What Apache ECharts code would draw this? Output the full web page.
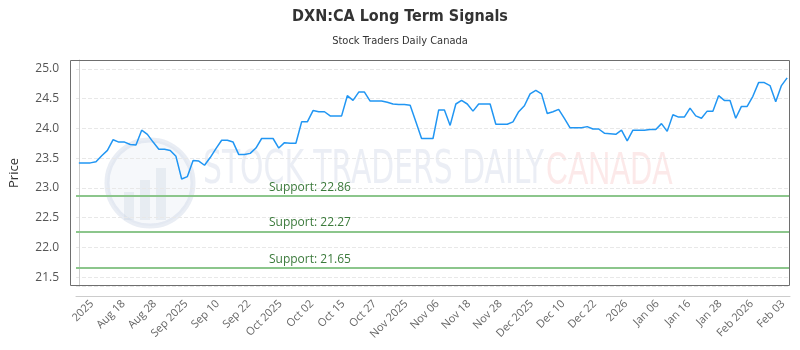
<!DOCTYPE html>
<html>
<head>
<meta charset="utf-8">
<title>DXN:CA Long Term Signals</title>
<script src="https://cdn.jsdelivr.net/npm/echarts@6/dist/echarts.min.js"></script>
<style>
  html, body { margin: 0; padding: 0; background: #fff; }
  #chart { width: 800px; height: 350px; }
</style>
</head>
<body>
<div id="chart"></div>
<script>
// daily closes
var prices = [
  23.42, 23.42, 23.42, 23.44, 23.54, 23.63, 23.81, 23.77, 23.77, 23.73,
  23.72, 23.97, 23.90, 23.77, 23.65, 23.65, 23.63, 23.53, 23.15, 23.19,
  23.46, 23.45, 23.38, 23.51, 23.66, 23.80, 23.80, 23.77, 23.56, 23.56,
  23.58, 23.67, 23.83, 23.83, 23.83, 23.67, 23.76, 23.75, 23.75, 24.11,
  24.11, 24.30, 24.28, 24.28, 24.21, 24.21, 24.21, 24.55, 24.47, 24.61,
  24.61, 24.46, 24.46, 24.46, 24.44, 24.41, 24.40, 24.40, 24.39, 24.11,
  23.83, 23.83, 23.83, 24.31, 24.31, 24.05, 24.41, 24.47, 24.41, 24.29,
  24.41, 24.41, 24.41, 24.07, 24.07, 24.07, 24.11, 24.28, 24.38, 24.58,
  24.64, 24.58, 24.25, 24.28, 24.32, 24.17, 24.01, 24.01, 24.01, 24.03,
  23.99, 23.99, 23.92, 23.91, 23.90, 23.97, 23.79, 23.97, 23.97, 23.97,
  23.98, 23.98, 24.08, 23.95, 24.23, 24.19, 24.19, 24.34, 24.21, 24.17,
  24.29, 24.29, 24.55, 24.47, 24.47, 24.17, 24.37, 24.37, 24.54, 24.77,
  24.77, 24.72, 24.45, 24.72, 24.85
]
var tickLabels = [
  '2025', 'Aug 18', 'Aug 28', 'Sep 2025', 'Sep 10', 'Sep 22', 'Oct 2025',
  'Oct 02', 'Oct 15', 'Oct 27', 'Nov 2025', 'Nov 06', 'Nov 18', 'Nov 28',
  'Dec 2025', 'Dec 10', 'Dec 22', '2026', 'Jan 06', 'Jan 16', 'Jan 28',
  'Feb 2026', 'Feb 03'
]
var supports = [22.86, 22.27, 21.65]

// labels sit at even spacing along the day index
var TICK_START = 2.3
var TICK_STEP = 5.5
var tickPos = tickLabels.map(function (t, j) { return TICK_START + j * TICK_STEP })

var GRID = { left: 70, right: 10, top: 60, bottom: 64 }

var chart = echarts.init(document.getElementById('chart'))

chart.setOption({
  animation: false,
  title: {
    text: 'DXN:CA Long Term Signals',
    subtext: 'Stock Traders Daily Canada',
    left: 'center',
    top: 4,
    itemGap: 11,
    textStyle: {
      color: '#333',
      fontSize: 16,
      fontWeight: 'bold',
      fontFamily: 'Liberation Sans Narrow, DejaVu Sans Condensed, sans-serif'
    },
    subtextStyle: {
      color: '#333',
      fontSize: 11,
      fontFamily: 'Liberation Sans Narrow, DejaVu Sans Condensed, sans-serif'
    }
  },
  grid: GRID,
  graphic: [
    { // watermark logo
      type: 'circle',
      z: 0,
      silent: true,
      shape: { cx: 150, cy: 183, r: 43 },
      style: { fill: 'rgba(215,222,235,0.22)', stroke: 'rgba(200,210,228,0.4)', lineWidth: 5 }
    },
    {
      type: 'rect', z: 0, silent: true,
      shape: { x: 124, y: 192, width: 10, height: 28 },
      style: { fill: 'rgba(200,208,222,0.3)' }
    },
    {
      type: 'rect', z: 0, silent: true,
      shape: { x: 140, y: 180, width: 10, height: 40 },
      style: { fill: 'rgba(200,208,222,0.3)' }
    },
    {
      type: 'rect', z: 0, silent: true,
      shape: { x: 156, y: 168, width: 10, height: 52 },
      style: { fill: 'rgba(200,208,222,0.3)' }
    },
    {
      type: 'text', z: 0, silent: true,
      x: 203, y: 148,
      scaleX: 0.72,
      style: {
        text: 'STOCK TRADERS DAILY',
        fill: 'rgba(215,222,235,0.5)',
        font: '46px "Liberation Sans Narrow", "DejaVu Sans Condensed", sans-serif'
      }
    },
    {
      type: 'text', z: 0, silent: true,
      x: 546, y: 148,
      scaleX: 0.66,
      style: {
        text: 'CANADA',
        fill: 'rgba(250,215,215,0.55)',
        font: '46px "Liberation Sans", sans-serif'
      }
    },
    { // plot frame, drawn over the edge grid lines
      type: 'rect', z: 10, silent: true,
      shape: {
        x: GRID.left + 0.5,
        y: GRID.top + 0.5,
        width: 800 - GRID.left - GRID.right - 1,
        height: 350 - GRID.top - GRID.bottom - 1
      },
      style: { fill: 'none', stroke: '#6e6e6e', lineWidth: 1 }
    }
  ],
  xAxis: {
    type: 'value',
    min: -0.5,
    max: prices.length - 0.5,
    offset: 10,
    axisLine: { show: true, lineStyle: { color: '#ccc' } },
    axisTick: { show: false },
    splitLine: { show: false },
    axisLabel: {
      customValues: tickPos,
      rotate: 45,
      margin: 6,
      color: '#666',
      fontSize: 11,
      fontFamily: 'Open Sans, sans-serif',
      formatter: function (v) {
        var j = Math.round((v - TICK_START) / TICK_STEP)
        return tickLabels[j] || ''
      }
    }
  },
  yAxis: {
    type: 'value',
    min: 21.35,
    max: 25.15,
    splitNumber: 8,
    offset: 10,
    name: 'Price',
    nameLocation: 'middle',
    nameGap: 45,
    nameTextStyle: { color: '#333', fontSize: 13, fontFamily: 'Open Sans, sans-serif' },
    axisLine: { show: true, lineStyle: { color: '#ccc' } },
    axisTick: { show: false },
    axisLabel: {
      color: '#555',
      fontSize: 12,
      margin: 7,
      fontFamily: 'Open Sans, sans-serif',
      formatter: function (v) {
        // only the half-unit ticks get a label
        if (Math.abs(v * 2 - Math.round(v * 2)) > 1e-6) return ''
        return v.toFixed(1)
      }
    },
    splitLine: { show: true, lineStyle: { color: '#e8e8e8', type: 'dashed' } }
  },
  series: [{
    name: 'DXN:CA',
    type: 'line',
    data: prices.map(function (p, i) { return [i, p] }),
    showSymbol: false,
    symbol: 'none',
    z: 3,
    lineStyle: { color: '#2196f3', width: 1.5 },
    itemStyle: { color: '#2196f3' },
    markLine: {
      silent: true,
      symbol: 'none',
      animation: false,
      lineStyle: { color: '#8cc68c', width: 2, type: 'solid' },
      label: {
        position: 'insideStartTop',
        distance: [193, 3],
        color: '#3b7a3b',
        fontSize: 12,
        fontFamily: 'Open Sans, sans-serif',
        formatter: function (p) { return 'Support: ' + p.value.toFixed(2) }
      },
      data: supports.map(function (s) { return { yAxis: s } })
    }
  }]
})
</script>
</body>
</html>
